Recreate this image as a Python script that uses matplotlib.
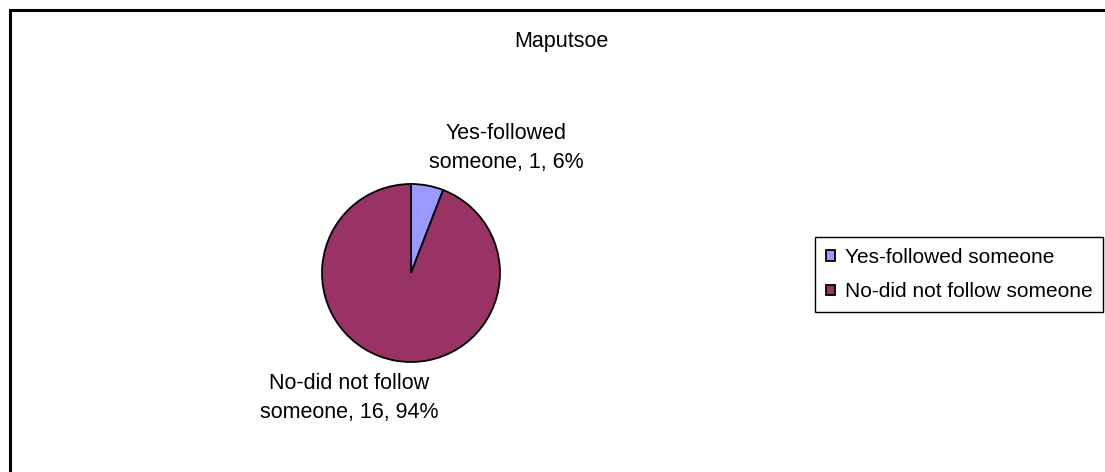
import matplotlib.pyplot as plt
from matplotlib.patches import Rectangle

# respostas em Maputsoe
categorias = ["Yes-followed someone", "No-did not follow someone"]
rotulos = ["Yes-followed\nsomeone", "No-did not follow\nsomeone"]
valores = [1, 16]
cores = ["#9999FF", "#993366"]
titulo = "Maputsoe"

plt.rcParams['font.family'] = ['Liberation Sans', 'DejaVu Sans']

W, H = 1105, 472
fig = plt.figure(figsize=(W / 100, H / 100), dpi=100)
ax = fig.add_axes([0, 0, 1, 1])

cx, cy, r = 411, H - 273, 89
wedges, _ = ax.pie(valores, colors=cores, startangle=90, counterclock=False,
                   center=(cx, cy), radius=r,
                   wedgeprops=dict(edgecolor='black', linewidth=1.3))

# o pie redefine os limites, entao ajusta depois
ax.set_xlim(0, W)
ax.set_ylim(0, H)
ax.set_aspect('equal')
ax.axis('off')

# moldura do grafico (topo e esquerda visiveis)
ax.add_patch(Rectangle((10, -10), W + 10, H - 10 + 10, fill=False,
                       edgecolor='black', lw=2.2, clip_on=False))

fs = 15.5
total = sum(valores)
pos_rotulos = [(506, H - 148), (349, H - 398)]
for rot, v, (x, y) in zip(rotulos, valores, pos_rotulos):
    ax.text(x, y, "{}, {}, {:.0f}%".format(rot, v, 100 * v / total),
            ha='center', va='center', fontsize=fs, linespacing=1.5)

ax.text(561, H - 41, titulo, ha='center', va='center', fontsize=fs)

leg = ax.legend(wedges, categorias, loc='upper left',
                bbox_to_anchor=(815 / W, 1 - 237 / H), bbox_transform=fig.transFigure,
                fontsize=15, frameon=True, fancybox=False, edgecolor='black',
                facecolor='white', framealpha=1,
                handlelength=0.42, handleheight=0.42, handletextpad=0.5,
                labelspacing=0.75, borderpad=0.52, borderaxespad=0)
leg.get_frame().set_linewidth(1.0)

fig.savefig("out.png", dpi=100)
